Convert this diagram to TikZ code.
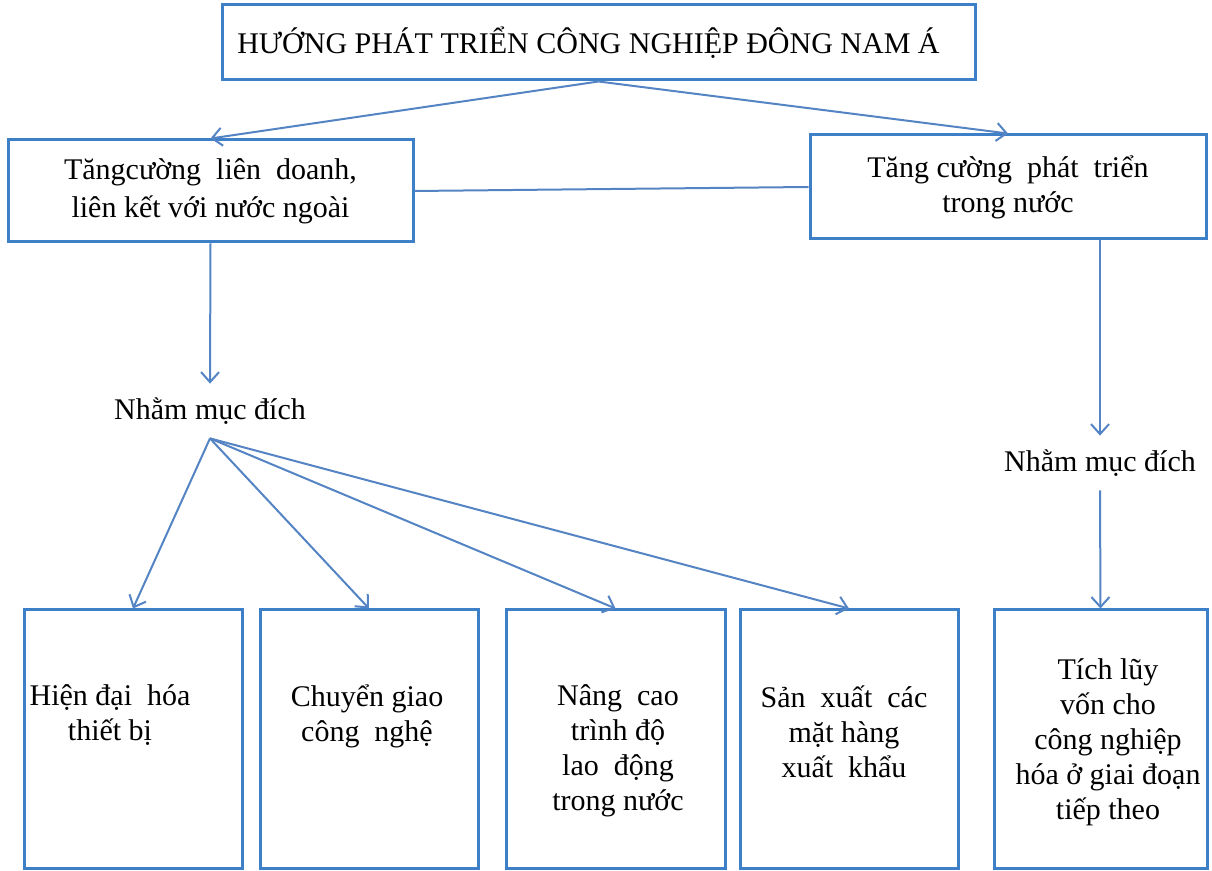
\documentclass[tikz,border=0pt]{standalone}
\usepackage{fontspec}
\setmainfont{Liberation Serif}
\usetikzlibrary{arrows.meta}
\definecolor{boxblue}{RGB}{62,128,200}
\definecolor{linkblue}{RGB}{84,132,196}
\begin{document}
\begin{tikzpicture}[x=0.5pt,y=-0.5pt,
 box/.style={draw=boxblue,line width=1.5pt,inner sep=0pt,align=center,font=\fontsize{15}{17.5}\selectfont},
 txt/.style={align=center,font=\fontsize{15}{17.5}\selectfont,inner sep=0pt},
 link/.style={draw=linkblue,line width=1pt},
 arr/.style={link,-{Straight Barb[length=5pt,width=9pt]}},
 lbl/.style={txt,minimum height=27pt}]
\useasboundingbox (0,0) rectangle (1212,871);
\fill[white] (0,0) rectangle (1212,871);

% top level
\node[box,minimum width=376.5pt,minimum height=37.5pt] (top) at (598.5,42.5)
  {\hspace*{-10pt}HƯỚNG PHÁT TRIỂN CÔNG NGHIỆP ĐÔNG NAM Á};

% second level
\node[box,minimum width=202.5pt,minimum height=51pt,font=\fontsize{15}{19}\selectfont] (lb) at (210.5,191)
  {Tăngcường \ liên \ doanh,\\liên kết với nước ngoài};
\node[box,minimum width=198pt,minimum height=52pt] (rb) at (1008,187)
  {Tăng cường \ phát \ triển\\trong nước};

% purpose labels
\node[lbl] (n1) at (210,411) {Nhằm mục đích};
\node[lbl] (n2) at (1100,463) {Nhằm mục đích};

% bottom boxes
\node[box,minimum width=109pt,minimum height=129.5pt] (b1) at (133,739.5) {};
\node[box,minimum width=109pt,minimum height=129.5pt] (b2) at (369,739.5) {};
\node[box,minimum width=109.5pt,minimum height=129.5pt] (b3) at (615.5,739.5) {};
\node[box,minimum width=109pt,minimum height=129.5pt] (b4) at (849,739.5) {};
\node[box,minimum width=106.5pt,minimum height=129.5pt] (b5) at (1100.5,739.5) {};

\node[txt] (t1) at (110,715) {Hiện đại \ hóa\\thiết bị};
\node[txt] (t2) at (367,716) {Chuyển giao\\công \ nghệ};
\node[txt] (t3) at (618,751) {Nâng \ cao\\trình độ\\lao \ động\\trong nước};
\node[txt] (t4) at (844,732) {Sản \ xuất \ các\\mặt hàng\\xuất \ khẩu};
\node[txt] (t5) at (1108,742) {Tích lũy\\vốn cho\\công nghiệp\\hóa ở giai đoạn\\tiếp theo};

% connectors
\draw[arr] (top.south) -- (lb.north);
\draw[arr] (top.south) -- (rb.north);
\draw[link] (lb.east) -- (rb.west);
\draw[arr] (lb.south) -- (n1.north);
\draw[arr] (n2.north |- rb.south) -- (n2.north);
\draw[arr] (n2.south) -- (b5.north);
\draw[arr] (n1.south) -- (b1.north);
\draw[arr] (n1.south) -- (b2.north);
\draw[arr] (n1.south) -- (b3.north);
\draw[arr] (n1.south) -- (b4.north);
\end{tikzpicture}
\end{document}
